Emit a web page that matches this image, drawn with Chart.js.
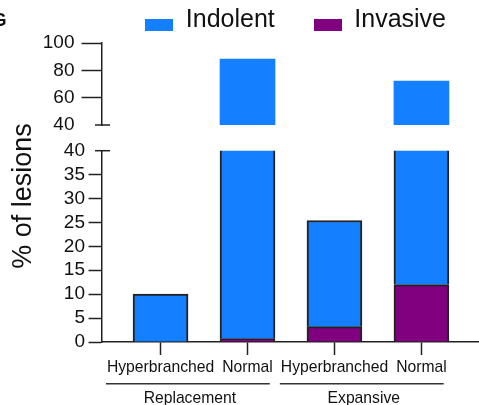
<!DOCTYPE html>
<html>
<head>
<meta charset="utf-8">
<script src="https://cdn.jsdelivr.net/npm/chart.js@4.4.1/dist/chart.umd.min.js"></script>
<style>
  html, body { margin: 0; padding: 0; background: #fff; }
  #wrap { position: relative; width: 479px; height: 405px; overflow: hidden; background: #fff; }
  #wrap canvas { position: absolute; left: 0; top: 0; }
</style>
</head>
<body>
<div id="wrap">
  <canvas id="upper" width="479" height="405"></canvas>
  <canvas id="lower" width="479" height="405"></canvas>
</div>
<script>
// Lesion categories: growth pattern (group) and vessel type (bar)
const groups = ['Replacement', 'Replacement', 'Expansive', 'Expansive'];
const vessels = ['Hyperbranched', 'Normal', 'Hyperbranched', 'Normal'];

// % of lesions per category, stacked Invasive (bottom) + Indolent (top)
const invasive = [0, 0.7, 3.2, 12];
const indolent = [10, 87.6, 22.2, 60.2];

// Broken y axis: lower segment and upper segment [min, max, step]
const lowerRange = [0, 40, 5];
const upperRange = [40, 100, 20];

const FONT = "'Liberation Sans', Arial, Helvetica, sans-serif";
const INK = '#111';
const LINE = '#222';
const COLORS = { Indolent: '#1480FF', Invasive: '#800080' };

// Frame of the two plotting panels (page pixels); the x axis runs off the right edge
const FRAME = { left: 101.5, right: 485, upperTop: 43, upperBottom: 125, lowerTop: 150.7, lowerBottom: 342 };
const X_MIN = -0.679, X_MAX = 3.662;

Chart.defaults.font.family = FONT;
Chart.defaults.color = INK;

function buildDatasets(borderWidth) {
  return [
    {
      label: 'Invasive',
      data: invasive.map((v, i) => ({ x: i, y: v })),
      backgroundColor: COLORS.Invasive,
      borderColor: LINE,
      borderWidth,
      barThickness: 55,
      clip: 0
    },
    {
      label: 'Indolent',
      data: indolent.map((v, i) => ({ x: i, y: v })),
      backgroundColor: COLORS.Indolent,
      borderColor: LINE,
      borderWidth,
      barThickness: 55,
      clip: 0
    }
  ];
}

function xScale(show) {
  return {
    type: 'linear',
    display: show,
    min: X_MIN,
    max: X_MAX,
    offset: false,
    stacked: true,
    afterBuildTicks: s => { s.ticks = vessels.map((_, i) => ({ value: i })); },
    ticks: {
      callback: v => vessels[v] ?? '',
      font: { size: 15.7 },
      color: INK,
      padding: 3,
      autoSkip: false,
      maxRotation: 0,
      minRotation: 0
    },
    grid: { offset: false, drawOnChartArea: false, tickLength: 13, tickColor: LINE, tickWidth: 1.5 },
    border: { color: LINE, width: 1.5 }
  };
}

function yScale(range, tickLen, pad) {
  return {
    type: 'linear',
    min: range[0],
    max: range[1],
    stacked: true,
    afterFit: s => { s.width = FRAME.left; },
    ticks: { stepSize: range[2], autoSkip: false, font: { size: 19 }, color: INK, padding: pad },
    grid: {
      drawOnChartArea: false,
      tickLength: tickLen,
      tickWidth: 1.5,
      tickColor: c => (c.tick && c.tick.value === 40) ? 'rgba(0,0,0,0)' : LINE
    },
    border: { color: LINE, width: 1.5 }
  };
}

// Legend swatch: a filled box sitting low on the text line
function swatch(color) {
  const c = document.createElement('canvas');
  c.width = 28;
  c.height = 21;
  const g = c.getContext('2d');
  g.fillStyle = color;
  g.fillRect(0, 9, 28, 12);
  return c;
}

// Short mark crossing the y axis at the break value
const axisBreak = {
  id: 'axisBreak',
  afterDraw(chart) {
    const { ctx, scales: { y } } = chart;
    const py = y.getPixelForValue(40);
    ctx.save();
    ctx.strokeStyle = LINE;
    ctx.lineWidth = 1.5;
    ctx.beginPath();
    ctx.moveTo(y.right - 6.5, py);
    ctx.lineTo(y.right + 8.5, py);
    ctx.stroke();
    ctx.restore();
  }
};

// Panel letter
const panelLetter = {
  id: 'panelLetter',
  afterDraw(chart) {
    const ctx = chart.ctx;
    ctx.save();
    ctx.fillStyle = INK;
    ctx.font = `bold 18px ${FONT}`;
    ctx.textAlign = 'left';
    ctx.textBaseline = 'alphabetic';
    ctx.fillText('G', -7.5, 26);
    ctx.restore();
  }
};

// Group brackets under the vessel labels, plus the shared y title
const groupBrackets = {
  id: 'groupBrackets',
  afterDraw(chart) {
    const { ctx, scales: { x } } = chart;
    ctx.save();
    ctx.font = `15.7px ${FONT}`;
    const spans = [];
    groups.forEach((g, i) => {
      const cx = x.getPixelForValue(i);
      const w = ctx.measureText(vessels[i]).width;
      const last = spans[spans.length - 1];
      if (last && last.name === g) last.right = cx + w / 2;
      else spans.push({ name: g, left: cx - w / 2, right: cx + w / 2 });
    });
    const lineY = x.bottom + 4;
    spans.forEach(s => {
      ctx.strokeStyle = '#333';
      ctx.lineWidth = 1.5;
      ctx.beginPath();
      ctx.moveTo(s.left - 1, lineY);
      ctx.lineTo(s.right - 3, lineY);
      ctx.stroke();
      ctx.fillStyle = INK;
      ctx.textAlign = 'center';
      ctx.textBaseline = 'alphabetic';
      ctx.fillText(s.name, (s.left + s.right) / 2, lineY + 19);
    });

    ctx.translate(24, 196);
    ctx.rotate(-Math.PI / 2);
    ctx.font = `27px ${FONT}`;
    ctx.textAlign = 'center';
    ctx.textBaseline = 'middle';
    ctx.fillStyle = INK;
    ctx.fillText('% of lesions', 0, 0);
    ctx.restore();
  }
};

const common = {
  responsive: false,
  animation: false,
  events: [],
  devicePixelRatio: 1
};

const upperPad = { top: -31, bottom: 405 - FRAME.upperBottom, left: 0, right: 479 - FRAME.right };
const upper = new Chart(document.getElementById('upper'), {
  type: 'bar',
  data: { datasets: buildDatasets(0) },
  options: {
    ...common,
    layout: { padding: upperPad },
    scales: { x: xScale(false), y: yScale(upperRange, 20, 7) },
    plugins: {
      tooltip: { enabled: false },
      legend: {
        display: true,
        position: 'top',
        fullSize: true,
        align: 'end',
        reverse: true,
        labels: {
          usePointStyle: true,
          pointStyleWidth: 28,
          boxHeight: 12,
          padding: 39,
          font: { size: 25 },
          color: INK,
          generateLabels: chart =>
            Chart.defaults.plugins.legend.labels.generateLabels(chart)
              .map(item => ({ ...item, pointStyle: swatch(item.fillStyle) }))
        }
      }
    }
  },
  plugins: [axisBreak, panelLetter]
});

const lowerPad = { top: FRAME.lowerTop, bottom: 28, left: 0, right: 479 - FRAME.right };
const lower = new Chart(document.getElementById('lower'), {
  type: 'bar',
  data: { datasets: buildDatasets(2) },
  options: {
    ...common,
    layout: { padding: lowerPad },
    scales: { x: xScale(true), y: yScale(lowerRange, 13, 3.5) },
    plugins: { tooltip: { enabled: false }, legend: { display: false } }
  },
  plugins: [axisBreak, groupBrackets]
});

// Settle each panel's plotting area onto its frame
function settle(chart, pad, top, bottom) {
  const a = chart.chartArea;
  const dBottom = a.bottom - bottom;
  const dTop = top === null ? 0 : top - a.top;
  if (Math.abs(dBottom) > 0.05 || Math.abs(dTop) > 0.05) {
    chart.config.options.layout.padding = {
      ...pad,
      bottom: pad.bottom + dBottom,
      top: pad.top + dTop
    };
    chart.update('none');
  }
}
settle(upper, upperPad, null, FRAME.upperBottom);
settle(lower, lowerPad, FRAME.lowerTop, FRAME.lowerBottom);
</script>
</body>
</html>
